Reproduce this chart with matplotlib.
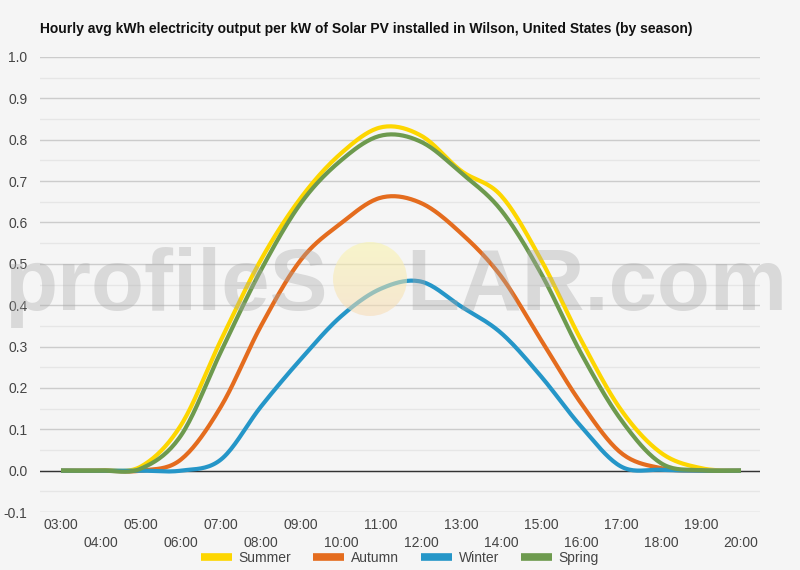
import numpy as np
import matplotlib as mpl
mpl.use("Agg")
import matplotlib.pyplot as plt
from matplotlib.patches import Circle

# data (kWh per kW, hourly)
hours = list(range(3, 21))
summer = [0, 0.001, 0.01, 0.11, 0.316, 0.51, 0.66, 0.767, 0.83, 0.81, 0.725, 0.665, 0.51, 0.316, 0.147, 0.043, 0.006, 0]
autumn = [0, 0, 0, 0.027, 0.155, 0.35, 0.51, 0.598, 0.66, 0.647, 0.574, 0.47, 0.316, 0.163, 0.043, 0.006, 0, 0]
winter = [0, 0, 0, 0, 0.027, 0.155, 0.27, 0.373, 0.44, 0.457, 0.397, 0.333, 0.228, 0.107, 0.01, 0.002, 0, 0]
spring = [0, 0, 0.005, 0.085, 0.288, 0.485, 0.647, 0.75, 0.81, 0.795, 0.72, 0.63, 0.477, 0.284, 0.123, 0.018, 0.001, 0]
tick_labels = ["%02d:00" % h for h in hours]

series = [("Summer", summer, "#fdd600"),
          ("Autumn", autumn, "#e46c1e"),
          ("Winter", winter, "#2596c8"),
          ("Spring", spring, "#6d9a4e")]

plt.rcParams['font.family'] = ['Liberation Sans', 'DejaVu Sans']


# catmull-rom smoothing, google charts style curves
def smooth(x, y, n=20):
    x = np.asarray(x, float)
    y = np.asarray(y, float)
    xp = np.concatenate([[2*x[0]-x[1]], x, [2*x[-1]-x[-2]]])
    yp = np.concatenate([[y[0]], y, [y[-1]]])
    xs, ys = [], []
    t = np.linspace(0, 1, n, endpoint=False)
    for i in range(1, len(xp)-2):
        p0, p1, p2, p3 = yp[i-1], yp[i], yp[i+1], yp[i+2]
        m1 = (p2-p0)/2
        m2 = (p3-p1)/2
        h00 = 2*t**3 - 3*t**2 + 1
        h10 = t**3 - 2*t**2 + t
        h01 = -2*t**3 + 3*t**2
        h11 = t**3 - t**2
        ys.append(h00*p1 + h10*m1 + h01*p2 + h11*m2)
        xs.append(xp[i] + t*(xp[i+1]-xp[i]))
    xs.append([x[-1]])
    ys.append([y[-1]])
    return np.concatenate(xs), np.concatenate(ys)


bg = "#f5f5f5"
fig = plt.figure(figsize=(8, 5.7), dpi=100, facecolor=bg)
ax = fig.add_axes([40/800, 1-512/570, 720/800, 455/570], facecolor=bg)

for name, vals, col in series:
    xs, ys = smooth(hours, vals)
    ax.plot(xs, ys, color=col, lw=3, label=name, solid_capstyle='butt', zorder=3)

ax.set_xlim(2.475, 20.475)
ax.set_ylim(-0.1, 1.0)

# y grid
ax.set_yticks(np.arange(-0.1, 1.01, 0.1))
ax.set_yticklabels(["%.1f" % v for v in np.arange(-0.1, 1.01, 0.1)])
ax.set_yticks(np.arange(-0.05, 1.0, 0.1), minor=True)
ax.grid(axis='y', which='major', color='#cccccc', lw=1)
ax.grid(axis='y', which='minor', color='#e6e6e6', lw=1)
ax.axhline(0, color='#333333', lw=1, zorder=2)

# x labels in two staggered rows
ax.set_xticks(hours[0::2])
ax.set_xticklabels(tick_labels[0::2])
ax.set_xticks(hours[1::2], minor=True)
ax.set_xticklabels(tick_labels[1::2], minor=True)
ax.tick_params(axis='x', which='major', length=0, pad=4, labelsize=10, labelcolor='#444444')
ax.tick_params(axis='x', which='minor', length=0, pad=17, labelsize=10, labelcolor='#444444')
ax.tick_params(axis='y', which='both', length=0, pad=9, labelsize=10, labelcolor='#444444')
ax.set_axisbelow(True)
for s in ax.spines.values():
    s.set_visible(False)

fig.text(40/800, 1-33/570, "Hourly avg kWh electricity output per kW of Solar PV installed in Wilson, United States (by season)",
         fontsize=10, fontweight='bold', color='#111111', va='baseline', ha='left')

leg = fig.legend(loc='center', bbox_to_anchor=(0.5, 1-558/570), ncol=4, frameon=False,
                 fontsize=10, handlelength=2.2, handletextpad=0.5, columnspacing=1.6)
for h in leg.get_lines():
    h.set_linewidth(5.5)
for t in leg.get_texts():
    t.set_color('#444444')

# watermark on top of the plot
wm = dict(fontsize=62.6, fontweight='bold', color='#a8a8a8', alpha=0.36, va='baseline', zorder=10)
fig.text(4/800, 1-310/570, "profileS", ha='left', **wm)
fig.text(406/800, 1-310/570, "LAR.com", ha='left', **wm)

# sun circle with soft gradient
axc = fig.add_axes([(370-37)/800, (570-279-37)/570, 74/800, 74/570], zorder=11)
axc.set_axis_off()
grad = np.zeros((50, 1, 4))
top = np.array([0.98, 0.96, 0.66])
bot = np.array([0.97, 0.86, 0.70])
for i in range(50):
    f = i/49
    grad[i, 0, :3] = top*(1-f) + bot*f
    grad[i, 0, 3] = 0.55
im = axc.imshow(grad, aspect='auto', extent=[0, 1, 0, 1], origin='upper')
im.set_clip_path(Circle((0.5, 0.5), 0.5, transform=axc.transAxes))
axc.set_xlim(0, 1)
axc.set_ylim(0, 1)

fig.savefig("out.png", dpi=100, facecolor=bg)
